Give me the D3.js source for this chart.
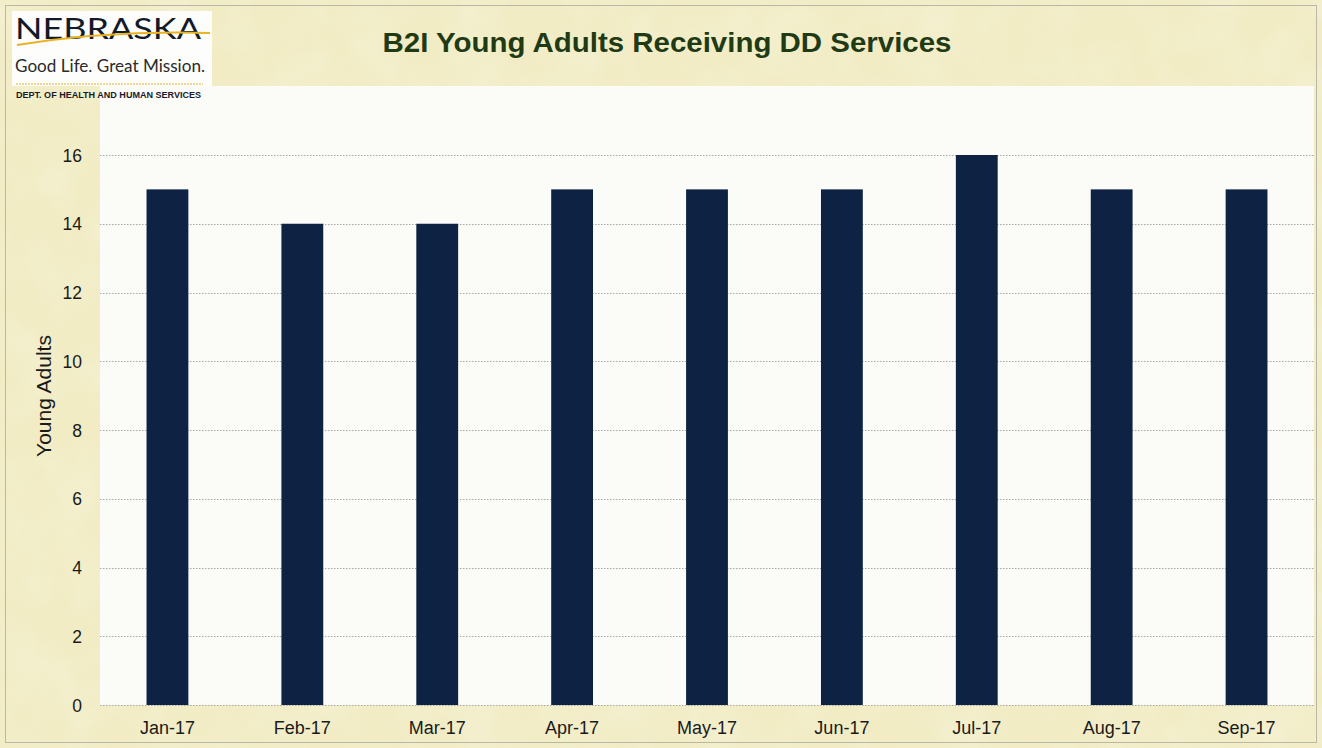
<!DOCTYPE html>
<html>
<head>
<meta charset="utf-8">
<script src="https://cdn.jsdelivr.net/npm/d3@7"></script>
<style>
  html, body { margin: 0; padding: 0; background: #efeac4; }
  svg { display: block; }
</style>
</head>
<body>
<svg id="chart" width="1322" height="748"></svg>
<script>
// Monthly counts of B2I young adults receiving DD services
const months = ["Jan-17", "Feb-17", "Mar-17", "Apr-17", "May-17", "Jun-17", "Jul-17", "Aug-17", "Sep-17"];
const youngAdults = [15, 14, 14, 15, 15, 15, 16, 15, 15];
const yTicks = [0, 2, 4, 6, 8, 10, 12, 14, 16];

const W = 1322, H = 748;
const plot = { left: 100, right: 1314, top: 86, bottom: 705 };
const FONT = "Liberation Sans, Arial, sans-serif";

const svg = d3.select("#chart");

// paper-like textured background
const defs = svg.append("defs");
const filt = defs.append("filter").attr("id", "paper").attr("x", 0).attr("y", 0).attr("width", "100%").attr("height", "100%");
filt.append("feTurbulence").attr("type", "fractalNoise").attr("baseFrequency", 0.02).attr("numOctaves", 3).attr("seed", 4).attr("result", "noise");
filt.append("feColorMatrix").attr("in", "noise").attr("type", "matrix")
  .attr("values", "0 0 0 0 1  0 0 0 0 1  0 0 0 0 0.95  0.7 0 0 0 -0.25");
svg.append("rect").attr("width", W).attr("height", H).attr("fill", "#f1ecc4");
svg.append("rect").attr("width", W).attr("height", H).attr("filter", "url(#paper)").attr("opacity", 0.6);

// outer frame
svg.append("rect").attr("x", 5.5).attr("y", 5.5).attr("width", W - 11).attr("height", H - 11)
  .attr("fill", "none").attr("stroke", "#b9b7a8").attr("stroke-width", 1);

// plot area
svg.append("rect").attr("x", plot.left).attr("y", plot.top)
  .attr("width", plot.right - plot.left).attr("height", plot.bottom - plot.top)
  .attr("fill", "#fbfbf8");

const x = d3.scaleBand().domain(months).range([plot.left, plot.right]).paddingInner(0.69).paddingOuter(0.345);
const y = d3.scaleLinear().domain([0, 18]).range([plot.bottom, plot.bottom - 18 * 34.375]);

// horizontal gridlines
svg.append("g").selectAll("line").data(yTicks).join("line")
  .attr("x1", plot.left).attr("x2", plot.right)
  .attr("y1", d => Math.round(y(d)) + 0.5).attr("y2", d => Math.round(y(d)) + 0.5)
  .attr("stroke", "#a8a8a8").attr("stroke-width", 1).attr("stroke-dasharray", "1.5,1.5");

// bars
svg.append("g").selectAll("rect").data(youngAdults).join("rect")
  .attr("x", (d, i) => x(months[i]))
  .attr("width", x.bandwidth())
  .attr("y", d => y(d))
  .attr("height", d => y(0) - y(d))
  .attr("fill", "#0e2244");

// y axis (labels only)
const yAxis = d3.axisLeft(y).tickValues(yTicks).tickSize(0).tickPadding(0).tickFormat(d3.format("d"));
const gy = svg.append("g").attr("transform", `translate(${plot.left - 18},0)`).call(yAxis);
gy.select(".domain").remove();
gy.selectAll("text").attr("font-family", FONT).attr("font-size", 17.5).attr("fill", "#1a1a1a").attr("dy", "0.35em");

// x axis (labels only)
const xAxis = d3.axisBottom(x).tickSize(0).tickPadding(0);
const gx = svg.append("g").attr("transform", `translate(0,${plot.bottom + 16})`).call(xAxis);
gx.select(".domain").remove();
gx.selectAll("text").attr("font-family", FONT).attr("font-size", 18).attr("fill", "#1a1a1a").attr("dy", "0.71em");

// y axis title
svg.append("text").attr("transform", `translate(51,${(335 + 457) / 2}) rotate(-90)`)
  .attr("text-anchor", "middle").attr("font-family", FONT)
  .attr("font-size", 21).attr("fill", "#1a1a1a").text("Young Adults");

// chart title
svg.append("text").attr("x", 667).attr("y", 52).attr("text-anchor", "middle")
  .attr("font-family", FONT).attr("font-weight", "bold")
  .attr("font-size", 28).attr("textLength", 569).attr("lengthAdjust", "spacingAndGlyphs")
  .attr("fill", "#1f3a14").text("B2I Young Adults Receiving DD Services");

// department logo block
const logo = svg.append("g");
logo.append("rect").attr("x", 12).attr("y", 11).attr("width", 200).attr("height", 75).attr("fill", "#fdfdfb");
logo.append("text").attr("x", 15).attr("y", 39).attr("font-family", "Lato, Noto Sans, sans-serif")
  .attr("font-size", 29).attr("textLength", 186).attr("lengthAdjust", "spacingAndGlyphs")
  .attr("fill", "#121a2a").text("NEBRASKA");
logo.append("path").attr("d", "M17,45 Q110,30 210,33").attr("fill", "none").attr("stroke", "#e8b323").attr("stroke-width", 2);
logo.append("text").attr("x", 15).attr("y", 72).attr("font-family", "Lato, Noto Sans, sans-serif")
  .attr("font-size", 17).attr("textLength", 190).attr("lengthAdjust", "spacingAndGlyphs")
  .attr("fill", "#2a2a2a").text("Good Life. Great Mission.");
logo.append("line").attr("x1", 16).attr("x2", 203).attr("y1", 84).attr("y2", 84)
  .attr("stroke", "#e8b323").attr("stroke-width", 1).attr("stroke-dasharray", "2,1");
logo.append("text").attr("x", 16).attr("y", 98).attr("font-family", FONT)
  .attr("font-weight", "bold").attr("font-size", 9).attr("textLength", 185).attr("lengthAdjust", "spacingAndGlyphs")
  .attr("fill", "#1a1a2a").text("DEPT. OF HEALTH AND HUMAN SERVICES");
</script>
</body>
</html>
